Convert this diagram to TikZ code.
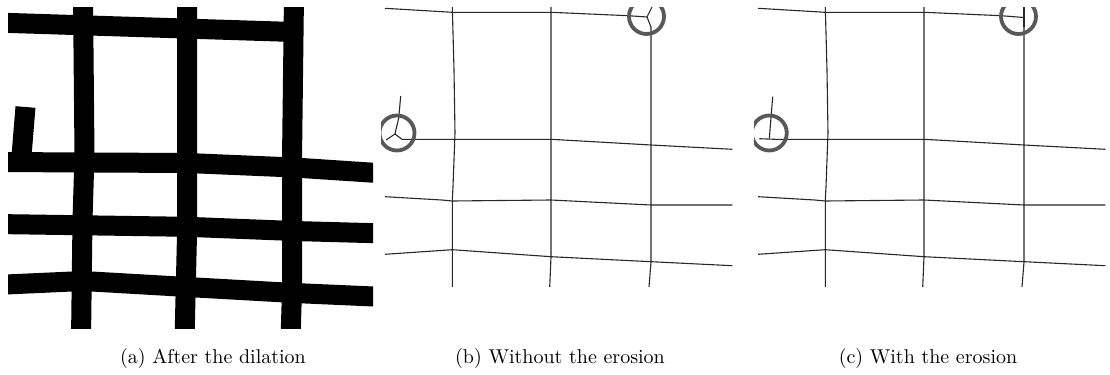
\documentclass[tikz,border=0pt]{standalone}
\definecolor{ringgray}{RGB}{88,88,88}
\definecolor{skelgray}{RGB}{40,40,40}
\newcommand{\skelcommon}{%
  % top line (left part)
  \draw[skel] (385,8.3) -- (452.3,12.3) -- (551,12.3) -- (628,15.7);
  % vertical lines
  \draw[skel] (452.3,7) -- (454,70) -- (455,133) -- (453,187) -- (452.3,200) -- (452.3,287);
  \draw[skel] (551,7) -- (551,257) -- (549.7,287);
  \draw[skel] (651,27) -- (651,262) -- (649,287);
  % horizontal lines
  \draw[skel] (402,139.3) -- (452.3,139.3) -- (551,139.3) -- (651,145) -- (732.3,149.3);
  \draw[skel] (385,196.7) -- (441.7,200) -- (452.3,201) -- (551,200) -- (651,205) -- (732.3,205);
  \draw[skel] (385,254.3) -- (452.3,249.7) -- (551,256.7) -- (651,261.7) -- (732.3,265.7);
}
\begin{document}
\begin{tikzpicture}[x=0.5pt,y=-0.5pt,
  bar/.style={line width=10pt, black},
  skel/.style={line width=0.55pt, draw=skelgray, line join=round},
  ring/.style={line width=1.9pt, draw=ringgray},
  captext/.style={inner sep=0pt, font=\normalsize}]
\useasboundingbox (0,0) rectangle (1110,375);
% ---------- (a) after the dilation ----------
\begin{scope}
  \clip (8,7) rectangle (373,328);
  \draw[bar] (-5,22.5) -- (294,32);
  \draw[bar] (83,-5) -- (84.5,155) -- (82.5,220) -- (81,340);
  \draw[bar] (187,-5) -- (187,235) -- (184.5,340);
  \draw[bar] (294,-5) -- (292,160) -- (292,290) -- (290.5,340);
  \draw[bar] (25.5,107) -- (21,162);
  \draw[bar] (-5,162) -- (187,163) -- (294,167.5) -- (385,173.5);
  \draw[bar] (-5,224) -- (187,226.8) -- (294,231) -- (385,233.5);
  \draw[bar] (-5,285) -- (83,281) -- (187,287) -- (294,293) -- (385,297);
\end{scope}
% ---------- (b) without the erosion ----------
\begin{scope}
  \clip (381,7) rectangle (745,300);
  \skelcommon
  \draw[skel] (628,15.7) -- (647,17);
  \draw[skel] (647,17) -- (653,5);
  \draw[skel] (647,17) -- (651,27);
  \draw[skel] (400.7,96) -- (398.7,118) -- (395,134);
  \draw[skel] (395,134) -- (386,140);
  \draw[skel] (395,134) -- (402,139.3);
  \draw[ring] (646.5,16.5) circle[radius=17.5];
  \draw[ring] (397,133) circle[radius=17.5];
\end{scope}
% ---------- (c) with the erosion ----------
\begin{scope}
  \clip (754,7) rectangle (1110,300);
  \begin{scope}[xshift=186.5pt]
    \skelcommon
    \draw[skel] (628,15.7) -- (651,17.5);
    \draw[skel] (651,7) -- (651,27);
    \draw[skel] (399.7,96.7) -- (396.3,138.7);
    \draw[skel] (386.3,138.7) -- (402,139.3);
    \draw[ring] (645.5,16.5) circle[radius=17.5];
    \draw[ring] (396.3,133) circle[radius=17.5];
  \end{scope}
\end{scope}
% ---------- captions ----------
\node[captext] (capa) at (213,358) {(a) After the dilation};
\node[captext] (capb) at (560,358) {(b) Without the erosion};
\node[captext] (capc) at (928,358) {(c) With the erosion};
\end{tikzpicture}
\end{document}
